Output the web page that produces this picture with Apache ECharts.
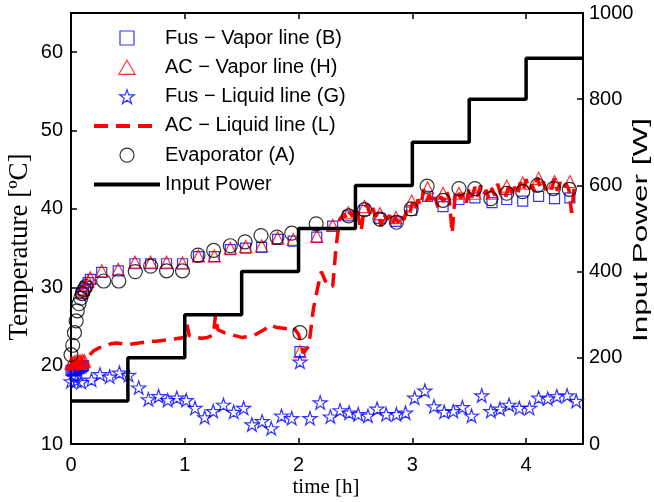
<!DOCTYPE html>
<html><head><meta charset="utf-8">
<script src="https://cdn.jsdelivr.net/npm/echarts@6/dist/echarts.min.js"></script>
<style>html,body{margin:0;padding:0;background:#fff}#c{width:654px;height:502px}</style>
</head><body><div id="c"></div>
<script>
// ---- data (time in h, temperature in °C, power in W) ----
const nameB = 'Fus \u2212 Vapor line (B)';
const nameH = 'AC \u2212 Vapor line (H)';
const nameG = 'Fus \u2212 Liquid line (G)';
const nameL = 'AC \u2212 Liquid line (L)';
const nameA = 'Evaporator (A)';
const nameP = 'Input Power';

const timeB = [0.00,0.01,0.02,0.03,0.04,0.05,0.06,0.07,0.08,0.09,0.10,0.11,
  0.09,0.11,0.13,0.15,0.17,
  0.27,0.415,0.562,0.70,0.84,0.98,1.12,1.26,1.40,1.535,1.675,1.816,1.953,2.012,2.16,2.30,2.437,
  2.58,2.715,2.856,2.994,3.134,3.27,3.41,3.55,3.70,3.83,3.97,4.11,4.25,4.385];
const tempB = [19.4,19.3,19.5,19.4,19.6,19.5,19.7,19.6,19.8,19.7,19.9,20.0,
  29.2,29.6,30.1,30.6,31.0,
  31.9,32.1,33.0,33.0,33.0,33.0,33.9,33.9,34.8,35.0,35.1,36.1,35.9,21.8,36.4,37.8,39.1,
  39.8,38.8,38.4,39.8,41.6,40.3,41.2,41.4,40.8,41.2,41.0,41.6,41.3,41.4];

const timeH = [0.00,0.01,0.02,0.03,0.04,0.05,0.06,0.07,0.08,0.09,0.10,0.11,0.12,
  0.09,0.11,0.13,0.15,0.17,
  0.27,0.415,0.562,0.70,0.84,0.98,1.12,1.26,1.40,1.535,1.675,1.816,1.953,2.012,2.16,2.30,2.437,
  2.58,2.715,2.856,2.994,3.134,3.27,3.41,3.55,3.70,3.83,3.97,4.11,4.25,4.385];
const tempH = [20.3,20.4,20.2,20.5,20.4,20.6,20.3,20.5,20.6,20.4,20.7,20.5,20.6,
  29.4,29.8,30.3,30.8,31.2,
  32.1,32.3,33.2,33.2,33.2,33.1,34.0,34.0,35.0,35.2,35.3,36.3,36.1,21.8,36.5,37.9,39.5,
  40.3,39.4,38.9,41.0,42.7,42.0,42.0,42.0,42.0,42.9,43.3,43.9,43.5,43.5];

const timeG = [0.00,0.03,0.05,0.09,0.18,0.255,0.34,0.425,0.506,0.595,0.68,0.77,0.85,0.93,1.013,
  1.09,1.175,1.25,1.34,1.43,1.517,1.59,1.68,1.76,1.85,1.94,2.012,2.10,2.19,2.28,2.365,2.445,
  2.525,2.61,2.69,2.77,2.86,2.94,3.02,3.11,3.19,3.28,3.36,3.44,3.52,3.61,3.69,3.77,3.85,3.94,
  4.03,4.11,4.19,4.27,4.36,4.44];
const tempG = [18.0,18.6,18.1,17.9,18.2,18.9,18.6,19.1,18.8,17.2,15.7,16.1,15.6,15.9,15.6,
  14.6,13.4,14.2,15.0,14.1,14.6,12.5,12.9,12.0,13.6,13.3,20.5,13.3,15.3,13.5,14.3,14.0,
  13.8,13.6,14.5,13.8,13.8,14.0,15.9,16.8,14.8,14.1,14.2,14.7,13.6,16.2,14.2,14.5,15.0,14.6,
  14.6,15.9,15.8,16.1,16.2,15.5];

const timeL = [0.00,0.05,0.10,0.15,0.20,0.25,0.30,0.35,0.40,0.45,0.50,0.55,0.60,0.65,0.70,0.75,
  0.80,0.85,0.90,0.95,1.00,1.02,1.04,1.10,1.15,1.20,1.25,1.27,1.29,1.35,1.40,1.45,1.50,1.55,
  1.60,1.65,1.70,1.75,1.80,1.85,1.90,1.95,2.00,2.04,2.09,2.13,2.17,2.20,2.25,2.30,2.33,2.36,
  2.375,2.400,2.425,2.450,2.475,2.500,2.525,2.550,2.575,2.600,2.625,2.650,2.675,2.700,2.725,
  2.750,2.775,2.800,2.825,2.850,2.875,2.900,2.925,2.950,2.975,3.000,3.025,3.050,3.075,3.100,
  3.125,3.150,3.175,3.200,3.225,3.250,3.275,3.300,3.325,3.350,3.375,3.400,3.425,3.450,3.475,
  3.500,3.525,3.550,3.575,3.600,3.625,3.650,3.675,3.700,3.725,3.750,3.775,3.800,3.825,3.850,
  3.875,3.900,3.925,3.950,3.975,4.000,4.025,4.050,4.075,4.100,4.125,4.150,4.175,4.200,4.225,
  4.250,4.275,4.300,4.325,4.350,4.375,4.400,4.425,4.450];
const tempL = [20.0,20.2,20.6,21.2,21.9,22.3,22.4,22.8,22.9,22.8,22.7,22.8,22.9,23.0,23.1,23.1,
  23.2,23.3,23.4,23.5,23.6,25.2,23.8,23.6,23.5,23.6,23.9,26.4,24.6,24.2,24.0,23.8,23.6,23.7,
  23.8,24.2,24.6,25.2,24.9,24.8,24.7,25.0,24.0,21.6,22.5,27.2,30.1,32.0,30.3,30.1,35.2,38.6,
  38.8,39.4,38.6,39.6,39.0,40.2,39.1,37.2,39.8,40.6,39.4,40.3,39.0,39.6,37.8,
  39.4,38.6,39.2,38.0,38.9,38.3,39.3,38.6,39.8,39.2,40.8,39.7,41.2,40.4,42.5,
  41.0,41.8,40.6,41.5,40.2,41.6,40.9,42.3,41.2,36.9,41.5,42.4,41.3,42.0,40.8,
  42.6,41.5,42.8,41.6,43.0,41.8,42.4,41.2,42.6,41.7,43.2,41.9,42.5,41.6,43.3,
  42.0,42.8,41.9,43.4,42.3,43.8,42.4,43.1,42.2,44.0,42.6,43.5,42.4,43.2,42.5,
  43.9,42.3,43.4,42.6,43.2,42.5,39.5,43.0,42.8];

const timeA = [0.00,0.015,0.03,0.045,0.055,0.07,0.085,0.10,0.115,0.13,
  0.287,0.42,0.565,0.70,0.84,0.98,1.116,1.254,1.40,1.53,1.67,1.81,1.94,2.012,2.155,2.44,
  2.58,2.715,2.86,2.99,3.13,3.27,3.41,3.55,3.69,3.83,3.97,4.10,4.24,4.38];
const tempA = [21.4,22.6,24.2,25.7,27.0,27.9,28.6,29.2,29.7,30.1,
  30.8,30.8,32.0,32.7,32.1,32.1,34.1,34.7,35.3,35.8,36.6,36.4,36.9,24.2,38.1,39.1,
  39.9,38.7,38.3,40.0,42.9,41.1,42.6,42.6,41.3,42.0,42.2,43.0,42.6,42.5];

const timeP = [0, 0.5, 1.0, 1.5, 2.0, 2.5, 3.0, 3.5, 4.0, 4.5];
const powerP = [100, 200, 300, 400, 500, 600, 700, 800, 895, 895];

const xTicks = [0, 1, 2, 3, 4];
const tempTicks = [10, 20, 30, 40, 50, 60];
const powerTicks = [0, 200, 400, 600, 800, 1000];

// ---- build ----
const zip = (a, b) => a.map((v, i) => [v, b[i]]);
const STAR = 'path://M50 0L61.17 34.63L97.55 34.55L68.07 55.87L79.39 90.45L50 69L20.61 90.45L31.93 55.87L2.45 34.55L38.83 34.63Z';
const SQUARE_ICON = 'path://M0 0L10 0L10 10L0 10Z';
const TRI_ICON = 'path://M10 0L20 17.3L0 17.3Z';
const SANS = 'Liberation Sans';
const axisLine = {show: true, onZero: false, lineStyle: {color: '#000', width: 2}};
const tick = {show: true, inside: true, length: 6, lineStyle: {color: '#000', width: 1.5}};
const lab = {fontFamily: SANS, fontSize: 20, color: '#000', formatter: v => String(v)};
const open = c => ({color: 'rgba(0,0,0,0)', borderColor: c, borderWidth: 1.2});

const chart = echarts.init(document.getElementById('c'), null, {renderer: 'canvas'});
chart.setOption({
  animation: false,
  backgroundColor: '#fff',
  grid: {left: 71, right: 71, top: 13, bottom: 58, containLabel: false, outerBoundsMode: 'none'},
  xAxis: [
    {type: 'value', position: 'bottom', min: xTicks[0], max: 4.5, interval: xTicks[1] - xTicks[0],
     axisLine, axisTick: tick, splitLine: {show: false},
     axisLabel: Object.assign({margin: 11, showMaxLabel: false}, lab)},
    {type: 'value', position: 'top', min: xTicks[0], max: 4.5, interval: 1,
     axisLine, axisTick: tick, splitLine: {show: false}, axisLabel: {show: false}}
  ],
  yAxis: [
    {type: 'value', position: 'left', min: tempTicks[0], max: 65, interval: 10,
     axisLine, axisTick: tick, splitLine: {show: false},
     axisLabel: Object.assign({margin: 8, showMaxLabel: false}, lab)},
    {type: 'value', position: 'right', min: powerTicks[0], max: powerTicks[powerTicks.length - 1], interval: 200,
     axisLine, axisTick: tick, splitLine: {show: false},
     axisLabel: Object.assign({margin: 6}, lab)}
  ],
  legend: {
    orient: 'vertical', left: 92, top: 28, itemWidth: 66, itemHeight: 14, itemGap: 9.3,
    selectedMode: false, padding: 0, symbolKeepAspect: true,
    textStyle: {fontFamily: SANS, fontSize: 20, color: '#000', lineHeight: 20},
    itemStyle: {borderWidth: 1.2},
    lineStyle: {width: 4},
    data: [
      {name: nameB, icon: SQUARE_ICON},
      {name: nameH, icon: TRI_ICON},
      {name: nameG, icon: STAR},
      {name: nameL, itemStyle: {opacity: 0}},
      {name: nameA, icon: 'circle'},
      {name: nameP, itemStyle: {opacity: 0}}
    ]
  },
  graphic: [
    {type: 'text', x: 20, y: 247, rotation: Math.PI / 2, silent: true,
     style: {text: 'Temperature [ºC]', font: '27px "Liberation Serif"', fill: '#000',
             align: 'center', verticalAlign: 'middle', textAlign: 'center', textVerticalAlign: 'middle'}},
    {type: 'text', x: 641, y: 230, rotation: Math.PI / 2, scaleX: 1.5, silent: true,
     style: {text: 'Input Power [W]', font: '21px "Liberation Sans"', fill: '#000',
             align: 'center', verticalAlign: 'middle', textAlign: 'center', textVerticalAlign: 'middle'}},
    {type: 'text', x: 326, y: 487, silent: true,
     style: {text: 'time [h]', font: '21px "Liberation Serif"', fill: '#000',
             align: 'center', verticalAlign: 'middle', textAlign: 'center', textVerticalAlign: 'middle'}}
  ],
  series: [
    {name: nameB, type: 'scatter', data: zip(timeB, tempB), symbol: 'rect', symbolSize: 10, symbolKeepAspect: true,
     itemStyle: open('#0000ff'), emphasis: {disabled: true}, z: 2},
    {name: nameH, type: 'scatter', data: zip(timeH, tempH), symbol: 'triangle', symbolSize: 12, symbolKeepAspect: true,
     itemStyle: open('#ff0000'), emphasis: {disabled: true}, z: 2},
    {name: nameG, type: 'scatter', data: zip(timeG, tempG), symbol: STAR, symbolSize: 14, symbolKeepAspect: true,
     itemStyle: open('#0000ff'), emphasis: {disabled: true}, z: 2},
    {name: nameL, type: 'line', data: zip(timeL, tempL), symbol: 'none', showSymbol: false,
     lineStyle: {color: '#ff0000', width: 3.5, type: [14, 8]}, itemStyle: {color: '#ff0000'},
     emphasis: {disabled: true}, z: 3},
    {name: nameA, type: 'scatter', data: zip(timeA, tempA), symbol: 'circle', symbolSize: 14, symbolKeepAspect: true,
     itemStyle: open('#000000'), emphasis: {disabled: true}, z: 4},
    {name: nameP, type: 'line', yAxisIndex: 1, step: 'end', data: zip(timeP, powerP),
     symbol: 'none', showSymbol: false, lineStyle: {color: '#000', width: 3.5}, itemStyle: {color: '#000'},
     emphasis: {disabled: true}, z: 5}
  ]
});
</script>
</body></html>
